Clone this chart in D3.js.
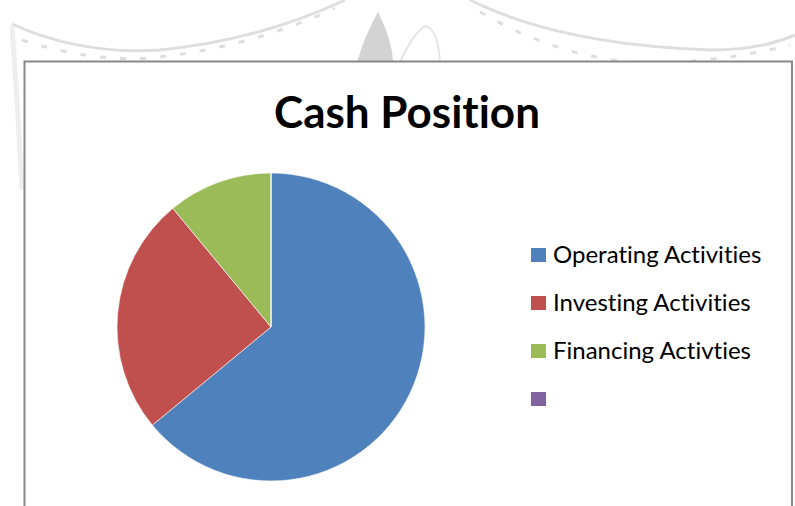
<!DOCTYPE html>
<html>
<head>
<meta charset="utf-8">
<script src="https://cdn.jsdelivr.net/npm/d3@7"></script>
<style>
  body { margin: 0; background: #fff; }
  svg { display: block; }
  text { font-variant-ligatures: none; font-feature-settings: "liga" 0; }
</style>
</head>
<body>
<div id="chart"></div>
<script>
var categories = ["Operating Activities", "Investing Activities", "Financing Activties", ""]
var values = [64, 25, 11, 0]
var colors = ["#4f81bd", "#c0504d", "#9bbb59", "#8064a2"]
var title = "Cash Position"

var width = 795
var height = 506

var svg = d3.select("#chart").append("svg")
  .attr("width", width)
  .attr("height", height)

// faint watermark behind the chart frame
var deco = svg.append("g")
  .attr("fill", "none")
  .attr("stroke", "#dedede")
  .attr("stroke-width", 3)
deco.append("path").attr("d", "M12,24 Q80,55 160,50 Q260,40 345,0")
deco.append("path").attr("d", "M470,0 Q560,45 712,50 Q760,50 795,35")
deco.append("path").attr("d", "M22,40 Q90,62 150,58 Q250,48 335,8")
  .attr("stroke-dasharray", "6,14")
deco.append("path").attr("d", "M480,12 Q580,70 680,62 Q740,58 790,45")
  .attr("stroke-dasharray", "6,14")
deco.append("path").attr("d", "M12,26 Q18,110 22,190")
  .attr("stroke", "#eeeeee").attr("stroke-width", 5)
deco.append("path").attr("d", "M378,12 Q392,40 393,62 L357,62 Q365,35 378,12 Z")
  .attr("fill", "#d3d3d3").attr("stroke", "none")
deco.append("path").attr("d", "M400,62 Q415,30 426,26 Q438,30 440,62")
  .attr("stroke", "#e6e6e6").attr("stroke-width", 2)

// chart frame
svg.append("rect")
  .attr("x", 24.5)
  .attr("y", 61.5)
  .attr("width", 767.5)
  .attr("height", 470)
  .attr("fill", "#fff")
  .attr("stroke", "#888")
  .attr("stroke-width", 2)

svg.append("text")
  .attr("x", 407)
  .attr("y", 128)
  .attr("text-anchor", "middle")
  .style("font-family", "Lato, 'Open Sans', sans-serif")
  .style("font-weight", "bold")
  .style("font-size", "44px")
  .style("fill", "#000")
  .text(title)

// pie
var cx = 271, cy = 327, radius = 154

var pie = d3.pie().sort(null).value(function(d) { return d })
var arc = d3.arc().innerRadius(0).outerRadius(radius)

svg.append("g")
  .attr("transform", "translate(" + cx + "," + cy + ")")
  .selectAll("path")
  .data(pie(values))
  .enter().append("path")
  .attr("d", arc)
  .attr("fill", function(d, i) { return colors[i] })
  .attr("stroke", "#fff")
  .attr("stroke-width", 0.6)

// legend
var legendY = d3.scalePoint().domain(d3.range(categories.length)).range([255, 399])

var legend = svg.append("g")
  .selectAll("g")
  .data(categories)
  .enter().append("g")
  .attr("transform", function(d, i) { return "translate(531," + legendY(i) + ")" })

legend.append("rect")
  .attr("x", 0)
  .attr("y", -7)
  .attr("width", 15)
  .attr("height", 14)
  .attr("fill", function(d, i) { return colors[i] })

legend.append("text")
  .attr("x", 22)
  .attr("y", 7.5)
  .style("font-family", "Lato, 'Open Sans', sans-serif")
  .style("font-size", "24px")
  .style("fill", "#000")
  .text(function(d) { return d })
</script>
</body>
</html>
